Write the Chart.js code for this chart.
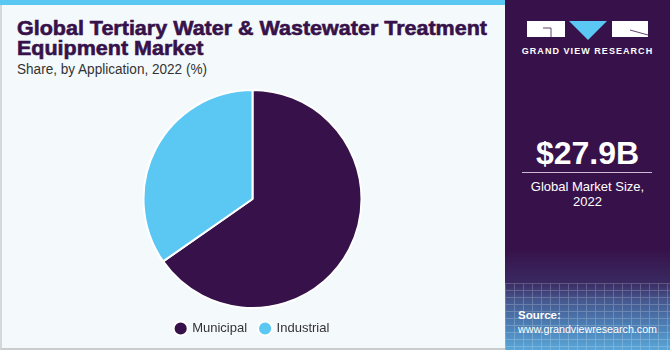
<!DOCTYPE html>
<html>
<head>
<meta charset="utf-8">
<script src="https://cdn.jsdelivr.net/npm/chart.js@4.4.0/dist/chart.umd.min.js"></script>
<style>
  html, body { margin:0; padding:0; width:670px; height:350px; overflow:hidden; background:#f5f9fc; font-family:"Liberation Sans", Arial, sans-serif; }
  #left { position:absolute; left:0; top:0; width:505px; height:350px; background:#f4f9fc; box-sizing:border-box; border-left:2px solid #d5d8da; border-bottom:2px solid #c9cdd0; }
  #stripe { position:absolute; left:0; top:0; width:505px; height:5px; background:#5bc8f4; }
  #title { position:absolute; left:17px; top:18px; font-weight:bold; font-size:21px; line-height:19.5px; color:#37124a; white-space:nowrap; transform-origin:0 0; -webkit-text-stroke:0.6px #37124a; }
  #subtitle { position:absolute; left:17px; top:61px; font-size:14px; color:#333; white-space:nowrap; transform-origin:0 0; }
  #right { position:absolute; left:505px; top:0; width:165px; height:350px; background:linear-gradient(to bottom, #37124a 0px, #37124a 250px, #3a2a62 283px, #45578e 300px, #4d86bc 330px, #5aa6d8 350px); }
  #grid { position:absolute; left:0; top:283px; width:165px; height:67px; opacity:0.22;
    background-image: repeating-linear-gradient(to right, rgba(255,255,255,0.9) 0 1px, transparent 1px 9px), repeating-linear-gradient(to bottom, rgba(255,255,255,0.9) 0 1px, transparent 1px 7px); }
  .wt { position:absolute; color:#fff; white-space:nowrap; }
  #logo { position:absolute; left:22px; top:21px; width:121px; height:20px; }
  #brand { left:0; width:165px; text-align:center; top:46px; font-weight:bold; font-size:9px; letter-spacing:1.05px; }
  #big { left:0; width:165px; text-align:center; top:135px; font-weight:bold; font-size:32px; }
  #rule { position:absolute; left:17px; top:172px; width:130px; height:1px; background:#c9bcd4; }
  #cap1 { left:0; width:165px; text-align:center; top:179px; font-size:13px; }
  #cap2 { left:0; width:165px; text-align:center; top:194px; font-size:13px; }
  #src1 { left:13px; top:309px; font-size:11.5px; font-weight:bold; }
  #src2 { left:13px; top:323px; font-size:11.5px; }
  #chartbox { position:absolute; left:0; top:89px; width:505px; height:262px; }
</style>
</head>
<body>
<div id="left"></div>
<div id="stripe"></div>
<div id="title">Global Tertiary Water &amp; Wastewater Treatment<br>Equipment Market</div>
<div id="subtitle">Share, by Application, 2022 (%)</div>
<div id="chartbox"><canvas id="c" width="505" height="262"></canvas></div>
<div id="right">
  <div id="grid"></div>
  <svg id="logo" viewBox="0 0 121 20">
    <rect x="0" y="0" width="38" height="16" fill="#fff"/>
    <path d="M16 7 H24 V16" stroke="#37124a" stroke-width="0.8" fill="none"/>
    <polygon points="42,0 80,0 61,19" fill="#5bc8f4"/>
    <rect x="85" y="0" width="36" height="16" fill="#fff"/>
    <path d="M103 9 L121 14" stroke="#37124a" stroke-width="0.8" fill="none"/>
  </svg>
  <div class="wt" id="brand">GRAND VIEW RESEARCH</div>
  <div class="wt" id="big">$27.9B</div>
  <div id="rule"></div>
  <div class="wt" id="cap1">Global Market Size,</div>
  <div class="wt" id="cap2">2022</div>
  <div class="wt" id="src1">Source:</div>
  <div class="wt" id="src2">www.grandviewresearch.com</div>
</div>
<script>
const categories = ["Municipal", "Industrial"];
const shares = [65.3, 34.7];
const colors = ["#37124a", "#5bc8f4"];

new Chart(document.getElementById("c"), {
  type: "pie",
  data: {
    labels: categories,
    datasets: [{ data: shares, backgroundColor: colors, borderColor: "#ffffff", borderWidth: 2 }]
  },
  options: {
    responsive: false,
    animation: false,
    layout: { padding: { top: 0, bottom: 6 } },
    plugins: {
      tooltip: { enabled: false },
      legend: {
        position: "bottom",
        labels: {
          usePointStyle: true, pointStyle: "circle", boxWidth: 10, boxHeight: 10,
          color: "#333", font: { family: "'Liberation Sans', Arial, sans-serif", size: 13 }, padding: 13
        }
      }
    }
  }
});

// fit title / subtitle widths to reference
const t = document.getElementById("title");
const span = document.createElement("span");
span.style.cssText = "font-weight:bold;font-size:21px;font-family:'Liberation Sans',Arial,sans-serif;visibility:hidden;position:absolute;white-space:nowrap";
span.textContent = "Global Tertiary Water & Wastewater Treatment";
document.body.appendChild(span);
const w = span.getBoundingClientRect().width;
t.style.transform = "scaleX(" + (470 / w) + ")";
span.remove();
const s = document.getElementById("subtitle");
s.style.transform = "scaleX(" + (190 / s.getBoundingClientRect().width) + ")";
const s2 = document.getElementById("src2");
const sw = s2.getBoundingClientRect().width;
if (sw > 139) { s2.style.transformOrigin = "0 0"; s2.style.transform = "scaleX(" + (139 / sw) + ")"; }
</script>
</body>
</html>
